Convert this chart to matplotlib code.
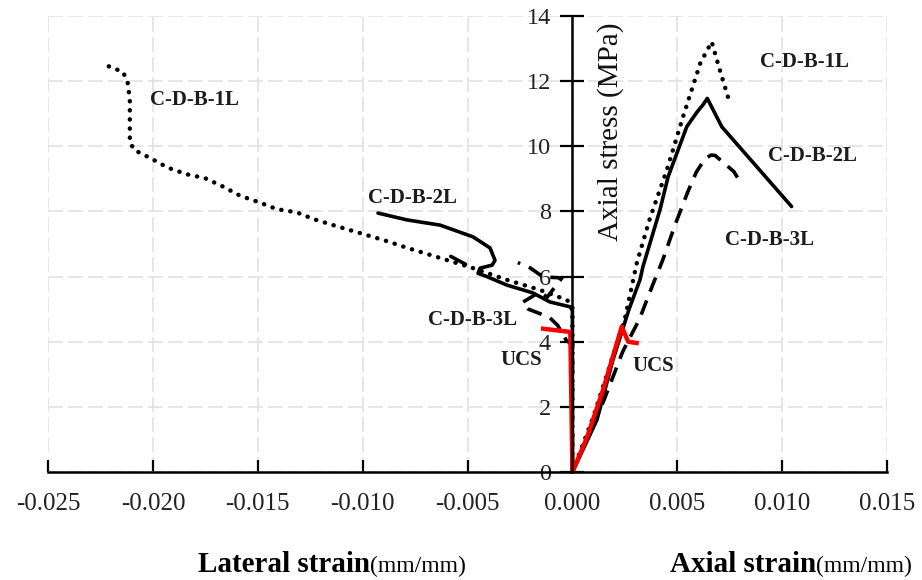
import matplotlib
matplotlib.use("Agg")
import matplotlib.pyplot as plt

plt.rcParams['font.family'] = ['Liberation Serif', 'DejaVu Serif']

# lateral strain (negative) and axial strain (positive) vs axial stress, MPa
lat_1L_x = [0.0, 0.0, -0.00026, -0.00155, -0.00313, -0.00474, -0.0063, -0.00787, -0.0090,
            -0.01052, -0.01141, -0.01236, -0.01314, -0.01409, -0.01498, -0.01584, -0.01665,
            -0.01751, -0.01838, -0.01928, -0.0201, -0.0209, -0.0211, -0.0211, -0.0212,
            -0.02142, -0.02228]
lat_1L_y = [0.0, 5.1, 5.28, 5.59, 5.9, 6.26, 6.57, 6.88, 7.12,
            7.41, 7.58, 7.77, 7.97, 8.07, 8.29, 8.48, 8.76,
            9.02, 9.14, 9.34, 9.63, 9.89, 10.14, 11.42, 11.94,
            12.28, 12.5]
ax_1L_x = [0.0, 0.001, 0.002, 0.0025, 0.00307, 0.0037, 0.0045, 0.00527, 0.0061, 0.00664,
           0.0070, 0.00746]
ax_1L_y = [0.0, 1.7, 3.7, 4.7, 6.42, 7.8, 9.27, 10.9, 12.56, 13.21, 12.4, 11.42]

lat_2L_x = [0.0, 0.0, -0.0001, -0.00107, -0.00189, -0.00313, -0.00408, -0.0045, -0.0044,
            -0.00383, -0.00369, -0.00393, -0.00474, -0.00631, -0.00789, -0.00927]
lat_2L_y = [0.0, 4.95, 5.07, 5.22, 5.5, 5.74, 6.0, 6.1, 6.26,
            6.35, 6.5, 6.88, 7.22, 7.58, 7.74, 7.95]
ax_2L_x = [0.0, 0.00117, 0.00193, 0.0027, 0.00322, 0.00336, 0.00417, 0.00456, 0.00545,
           0.00594, 0.00622, 0.00643, 0.00712, 0.01045]
ax_2L_y = [0.0, 1.6, 3.44, 5.0, 5.9, 6.3, 8.04, 9.06, 10.6,
           11.05, 11.27, 11.47, 10.6, 8.15]

# 3L lateral: main part near the axis, plus the short piece left of the 2L curve
lat_3L_x = [0.0, 0.0, -0.0003, -0.0007, -0.0011, -0.0021, -0.0024, -0.00155, -0.0012,
            -0.0005, -0.0014, -0.002, -0.0026]
lat_3L_y = [0.0, 3.9, 4.05, 4.5, 4.75, 5.0, 5.2, 5.53, 5.37,
            5.96, 5.99, 6.26, 6.43]
lat_3L_tail_x = [-0.0051, -0.0058]
lat_3L_tail_y = [6.38, 6.62]
ax_3L_x = [0.0, 0.0015, 0.0024, 0.0032, 0.0038, 0.0043, 0.0049, 0.0055, 0.0059, 0.0063,
           0.0066, 0.0068, 0.0072, 0.0077, 0.0081]
ax_3L_y = [0.0, 2.2, 3.7, 4.7, 5.7, 6.5, 7.6, 8.6, 9.2, 9.6,
           9.73, 9.72, 9.5, 9.22, 8.8]

ucs_lat_x = [0.0, -0.0001, -0.0014]
ucs_lat_y = [0.0, 4.3, 4.4]
ucs_ax_x = [0.0, 0.0007, 0.00146, 0.00235, 0.00266, 0.00306]
ucs_ax_y = [0.0, 1.07, 2.52, 4.46, 4.0, 3.96]

x_ticks = [-0.025, -0.020, -0.015, -0.010, -0.005, 0.0, 0.005, 0.010, 0.015]
y_ticks = [0, 2, 4, 6, 8, 10, 12, 14]

fig = plt.figure(figsize=(9.22, 5.8), dpi=100)
ax = fig.add_axes([0.0521, 0.1862, 0.9100, 0.7862])

dot = dict(color='black', lw=3.2, linestyle=(0, (0.05, 2.0)), dash_capstyle='round')
dash = dict(color='black', lw=2.6, linestyle=(0, (4.2, 2.6)))
solid = dict(color='black', lw=2.6, solid_capstyle='round', solid_joinstyle='round')
red = dict(color='#ff0000', lw=3.2, solid_joinstyle='round')

ax.plot(lat_1L_x, lat_1L_y, **dot)
ax.plot(ax_1L_x, ax_1L_y, **dot)
ax.plot(lat_2L_x, lat_2L_y, **solid)
ax.plot(ax_2L_x, ax_2L_y, **solid)
ax.plot(lat_3L_x, lat_3L_y, **dash)
ax.plot(lat_3L_tail_x, lat_3L_tail_y, color='black', lw=2.6, solid_capstyle='round')
ax.plot(ax_3L_x, ax_3L_y, **dash)
ax.plot(ucs_lat_x, ucs_lat_y, **red)
ax.plot(ucs_ax_x, ucs_ax_y, **red)

ax.set_xlim(-0.025, 0.015)
ax.set_ylim(0, 14)
ax.set_xticks(x_ticks)
ax.set_xticklabels([f"{v:.3f}" for v in x_ticks])
ax.set_yticks(y_ticks)

ax.grid(True, color='#e2e2e2', lw=1.2, linestyle=(0, (9, 3)), zorder=0)
ax.set_axisbelow(True)

for s in ['top', 'right']:
    ax.spines[s].set_visible(False)
ax.spines['left'].set_position(('data', 0))
ax.spines['left'].set_linewidth(1.8)
ax.spines['bottom'].set_linewidth(1.8)

ax.tick_params(axis='x', direction='in', length=9, width=1.6, pad=15,
               labelsize=18, labelcolor='#222222')
ax.tick_params(axis='y', direction='inout', length=17, width=1.6, pad=7,
               labelsize=17.5, labelcolor='#222222')

lbl = dict(fontsize=15, fontweight='bold', color='#1c1c1c', va='center', ha='left')
ax.text(-0.02013, 11.42, 'C-D-B-1L', **lbl)
ax.text(-0.00974, 8.41, 'C-D-B-2L', **lbl)
ax.text(-0.00688, 4.67, 'C-D-B-3L', **lbl)
ax.text(-0.00345, 3.44, 'UCS', **lbl)
ax.text(0.00284, 3.25, 'UCS', **lbl)
ax.text(0.00894, 12.59, 'C-D-B-1L', **lbl)
ax.text(0.00932, 9.70, 'C-D-B-2L', **lbl)
ax.text(0.00727, 7.12, 'C-D-B-3L', **lbl)

ax.text(0.0018, 10.44, 'Axial stress (MPa)', rotation=90, fontsize=21,
        ha='center', va='center', color='#111111')

fig.text(370 / 922, 8 / 580, 'Lateral strain', fontsize=21, fontweight='bold',
         ha='right', va='baseline')
fig.text(370 / 922, 8 / 580, '(mm/mm)', fontsize=17, ha='left', va='baseline')
fig.text(816 / 922, 8 / 580, 'Axial strain', fontsize=21, fontweight='bold',
         ha='right', va='baseline')
fig.text(816 / 922, 8 / 580, '(mm/mm)', fontsize=17, ha='left', va='baseline')

fig.savefig('out.png', dpi=100)
